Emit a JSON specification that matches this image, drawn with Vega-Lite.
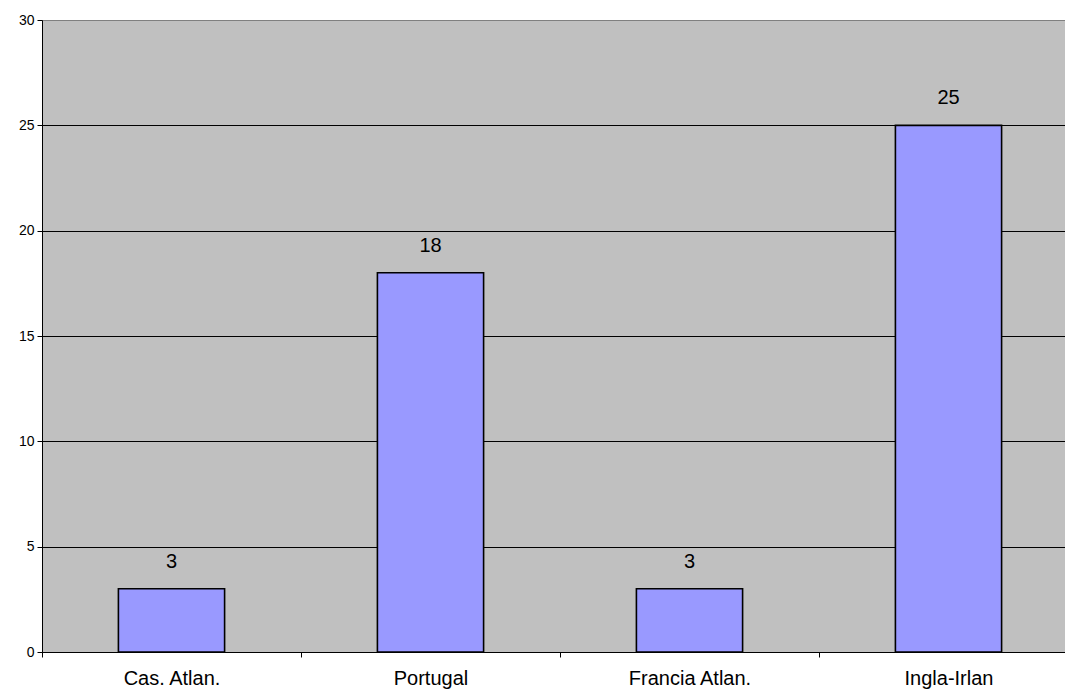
{
  "$schema": "https://vega.github.io/schema/vega-lite/v6.json",
  "width": 1036,
  "height": 632,
  "autosize": "none",
  "padding": {"left": 42, "top": 20, "right": 0, "bottom": 41},
  "background": "white",
  "config": {
    "view": {"fill": "#C0C0C0", "stroke": "#808080", "strokeWidth": 1},
    "font": "Liberation Sans"
  },
  "data": {
    "values": [
      {"region": "Cas. Atlan.", "value": 3},
      {"region": "Portugal", "value": 18},
      {"region": "Francia Atlan.", "value": 3},
      {"region": "Ingla-Irlan", "value": 25}
    ]
  },
  "encoding": {
    "x": {
      "field": "region",
      "type": "nominal",
      "sort": null,
      "scale": {"paddingInner": 0, "paddingOuter": 0},
      "axis": {
        "title": null,
        "labelAngle": 0,
        "labelFontSize": 20,
        "labelColor": "black",
        "labelFont": "Liberation Sans",
        "labelPadding": 11,
        "tickBand": "extent",
        "tickSize": 5,
        "tickColor": "black",
        "domainColor": "black",
        "domainWidth": 1,
        "zindex": 1
      }
    },
    "y": {
      "field": "value",
      "type": "quantitative",
      "scale": {"domain": [0, 30], "nice": false},
      "axis": {
        "title": null,
        "values": [0, 5, 10, 15, 20, 25, 30],
        "labelFontSize": 14,
        "labelColor": "black",
        "labelFont": "Liberation Sans",
        "labelPadding": 3,
        "tickSize": 5,
        "tickColor": "black",
        "domainColor": "black",
        "domainWidth": 1,
        "grid": true,
        "gridColor": {"condition": {"test": "datum.value == 30", "value": "#808080"}, "value": "black"},
        "gridWidth": 1,
        "gridOpacity": 1,
        "zindex": 0
      }
    }
  },
  "layer": [
    {
      "mark": {"type": "bar", "width": {"band": 0.41}, "fill": "#9999FF", "stroke": "black", "strokeWidth": 1.6}
    },
    {
      "mark": {"type": "text", "dy": -21, "baseline": "alphabetic", "fontSize": 20, "color": "black", "font": "Liberation Sans"},
      "encoding": {"text": {"field": "value", "type": "quantitative"}}
    }
  ]
}
